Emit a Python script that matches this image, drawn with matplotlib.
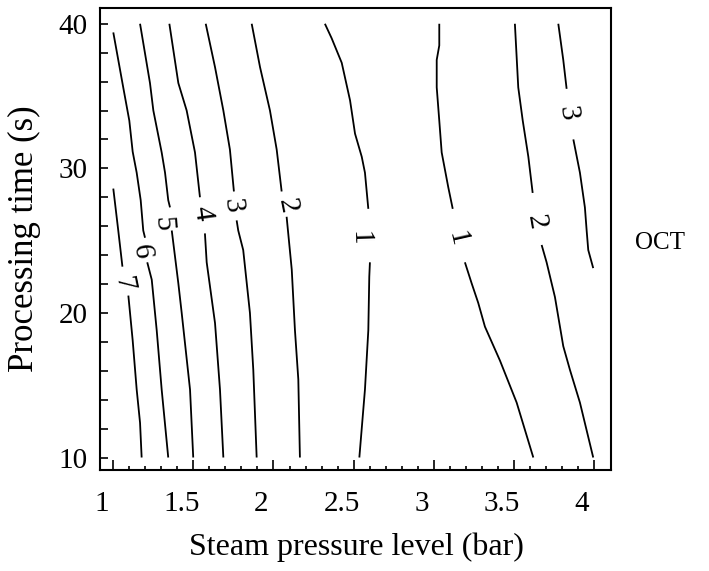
import matplotlib
matplotlib.use("Agg")
import matplotlib.pyplot as plt
import matplotlib.transforms as mtransforms
import numpy as np

plt.rcParams['font.family'] = ['Liberation Serif', 'DejaVu Serif']

# ---- axis ticks / labels ----
x_major = [1.0, 1.5, 2.0, 2.5, 3.0, 3.5, 4.0]
x_ticklabels = ['1', '1.5', '2', '2.5', '3', '3.5', '4']
x_minor = [round(1.0 + 0.1 * i, 1) for i in range(31)]
y_major = [10, 20, 30, 40]
y_ticklabels = ['10', '20', '30', '40']
y_minor = list(range(10, 41, 2))

# ---- contour lines, each split at its label ----
# level 7
c7_up_x = [1.000, 1.031, 1.057]
c7_up_y = [28.6, 25.7, 23.2]
c7_lo_x = [1.094, 1.121, 1.146, 1.167, 1.177]
c7_lo_y = [21.2, 18.1, 14.7, 12.4, 10.0]
c7_lab = (1.062, 22.05)
# level 6
c6_up_x = [1.000, 1.062, 1.100, 1.121, 1.146, 1.171, 1.187, 1.198]
c6_up_y = [39.4, 35.6, 33.3, 31.15, 29.7, 27.8, 25.7, 25.2]
c6_lo_x = [1.212, 1.240, 1.271, 1.302, 1.343]
c6_lo_y = [23.5, 22.3, 18.8, 14.7, 10.0]
c6_lab = (1.177, 24.23)
# level 5
c5_up_x = [1.167, 1.229, 1.250, 1.302, 1.323, 1.343, 1.354]
c5_up_y = [40.0, 35.9, 34.0, 31.1, 29.7, 27.8, 27.3]
c5_lo_x = [1.365, 1.406, 1.427, 1.479, 1.499]
c5_lo_y = [25.7, 22.05, 20.0, 14.7, 10.0]
c5_lab = (1.306, 26.2)
# level 4
c4_up_x = [1.350, 1.406, 1.458, 1.510, 1.541]
c4_up_y = [40.0, 35.9, 34.0, 31.1, 28.0]
c4_lo_x = [1.572, 1.583, 1.635, 1.666, 1.687]
c4_lo_y = [25.5, 23.5, 19.3, 14.7, 10.0]
c4_lab = (1.556, 26.89)
# level 3 (left)
c3a_up_x = [1.577, 1.635, 1.687, 1.728, 1.753]
c3a_up_y = [40.0, 37.0, 34.0, 31.3, 28.4]
c3a_lo_x = [1.770, 1.780, 1.811, 1.853, 1.874, 1.895]
c3a_lo_y = [26.4, 25.7, 24.35, 20.0, 16.05, 10.0]
c3a_lab = (1.743, 27.46)
# level 2 (left)
c2a_up_x = [1.864, 1.916, 1.978, 2.020, 2.051]
c2a_up_y = [40.0, 37.0, 34.0, 31.3, 28.4]
c2a_lo_x = [2.082, 2.114, 2.134, 2.155, 2.165]
c2a_lo_y = [26.65, 23.0, 18.8, 15.4, 10.0]
c2a_lab = (2.086, 27.41)
# level 1 (left)
c1a_up_x = [2.321, 2.363, 2.426, 2.478, 2.509, 2.551, 2.571, 2.592]
c1a_up_y = [40.0, 39.0, 37.3, 34.7, 32.4, 30.8, 29.7, 27.2]
c1a_lo_x = [2.602, 2.598, 2.592, 2.571, 2.536]
c1a_lo_y = [23.5, 22.5, 18.8, 14.7, 10.0]
c1a_lab = (2.540, 25.16)
# level 1 (right)
c1b_up_x = [3.035, 3.035, 3.019, 3.019, 3.035, 3.050, 3.091, 3.119]
c1b_up_y = [40.0, 38.5, 37.5, 35.6, 33.3, 31.1, 28.7, 27.2]
c1b_lo_x = [3.195, 3.237, 3.278, 3.320, 3.414, 3.518, 3.622]
c1b_lo_y = [23.5, 22.05, 20.7, 19.05, 16.7, 13.8, 10.0]
c1b_lab = (3.144, 25.16)
# level 2 (right)
c2b_up_x = [3.507, 3.528, 3.556, 3.591, 3.618]
c2b_up_y = [40.0, 35.6, 33.3, 30.8, 28.3]
c2b_lo_x = [3.674, 3.705, 3.757, 3.809, 3.851, 3.913, 3.996]
c2b_lo_y = [24.7, 23.5, 21.1, 17.7, 16.05, 13.8, 10.0]
c2b_lab = (3.637, 26.27)
# level 3 (right)
c3b_up_x = [3.778, 3.809, 3.830]
c3b_up_y = [40.0, 37.5, 35.5]
c3b_lo_x = [3.872, 3.913, 3.944, 3.955, 3.965, 3.996]
c3b_lo_y = [32.0, 29.7, 27.3, 25.7, 24.35, 23.1]
c3b_lab = (3.834, 33.80)

contours = [
    ('7', c7_up_x, c7_up_y, c7_lo_x, c7_lo_y, c7_lab),
    ('6', c6_up_x, c6_up_y, c6_lo_x, c6_lo_y, c6_lab),
    ('5', c5_up_x, c5_up_y, c5_lo_x, c5_lo_y, c5_lab),
    ('4', c4_up_x, c4_up_y, c4_lo_x, c4_lo_y, c4_lab),
    ('3', c3a_up_x, c3a_up_y, c3a_lo_x, c3a_lo_y, c3a_lab),
    ('2', c2a_up_x, c2a_up_y, c2a_lo_x, c2a_lo_y, c2a_lab),
    ('1', c1a_up_x, c1a_up_y, c1a_lo_x, c1a_lo_y, c1a_lab),
    ('1', c1b_up_x, c1b_up_y, c1b_lo_x, c1b_lo_y, c1b_lab),
    ('2', c2b_up_x, c2b_up_y, c2b_lo_x, c2b_lo_y, c2b_lab),
    ('3', c3b_up_x, c3b_up_y, c3b_lo_x, c3b_lo_y, c3b_lab),
]

W, H = 709, 571
fig = plt.figure(figsize=(W / 100, H / 100), dpi=100)
ax = fig.add_axes([100 / W, 1 - 470 / H, 511 / W, 462 / H])
ax.set_xlim(0.917, 4.107)
ax.set_ylim(9.136, 41.09)

line_kw = dict(color='black', lw=1.3, solid_capstyle='butt')
fig.canvas.draw()
for lev, ux, uy, lx, ly, lab in contours:
    ax.plot(ux, uy, **line_kw)
    ax.plot(lx, ly, **line_kw)
    p0 = ax.transData.transform((ux[-1], uy[-1]))
    p1 = ax.transData.transform((lx[0], ly[0]))
    ang = np.degrees(np.arctan2(p1[1] - p0[1], p1[0] - p0[0]))
    if ang > 90:
        ang -= 180
    elif ang <= -90:
        ang += 180
    ax.text(lab[0], lab[1], lev, fontsize=21, rotation=ang,
            rotation_mode='anchor', ha='center', va='center')

# ticks
ax.set_xticks(x_major)
ax.set_xticklabels(x_ticklabels)
ax.set_xticks(x_minor, minor=True)
ax.set_yticks(y_major)
ax.set_yticklabels(y_ticklabels)
ax.set_yticks(y_minor, minor=True)
ax.tick_params(axis='x', which='major', direction='in', length=7, width=1.2,
               labelsize=21, pad=15)
ax.tick_params(axis='x', which='minor', direction='in', length=3, width=1.2)
ax.tick_params(axis='y', which='both', direction='in', length=6, width=1.2,
               labelsize=21, pad=9)
shift = mtransforms.ScaledTranslation(-12 / 100, 0, fig.dpi_scale_trans)
for t in ax.get_xticklabels():
    t.set_transform(t.get_transform() + shift)

for s in ax.spines.values():
    s.set_linewidth(1.5)

ax.set_xlabel('Steam pressure level (bar)', fontsize=23)
ax.xaxis.set_label_coords(0.501, -0.135)
ax.set_ylabel('Processing time (s)', fontsize=25)
ax.yaxis.set_label_coords(-0.115, 0.5)

fig.text(660 / W, 1 - 243 / H, 'OCT', fontsize=18, ha='center', va='center')

fig.savefig('out.png', dpi=100)
